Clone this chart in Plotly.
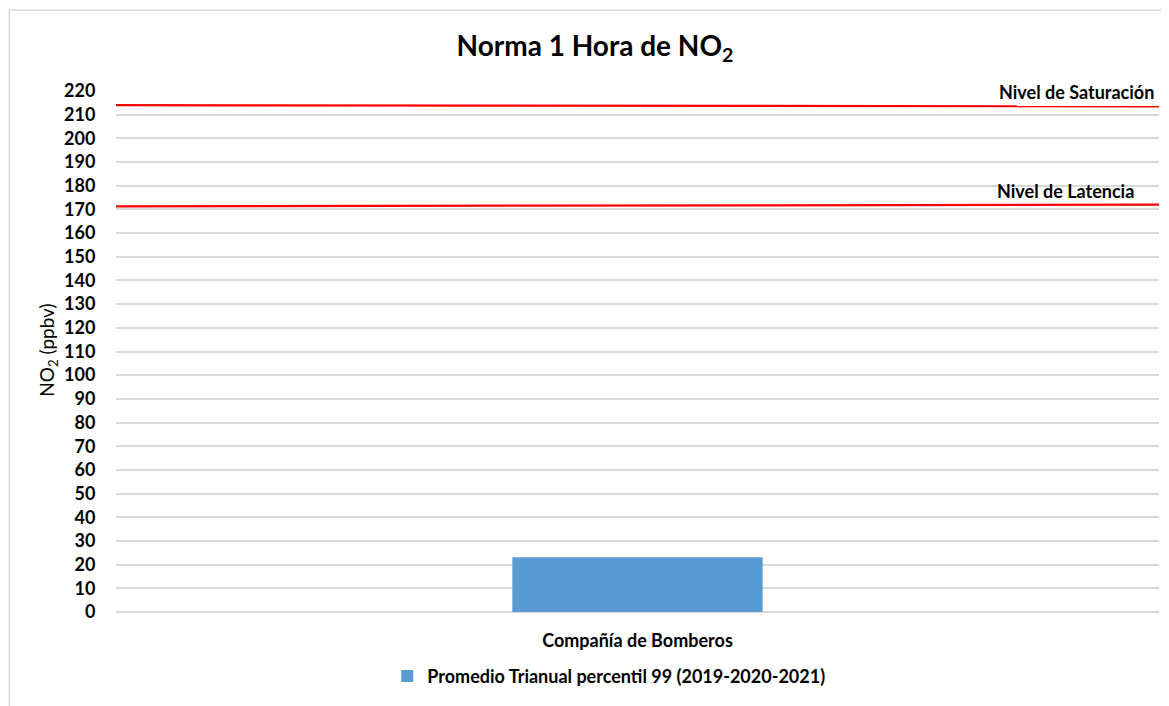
import plotly.graph_objects as go

categories = ["Compañía de Bomberos"]
promedio_values = [23.1]
series_name = "Promedio Trianual percentil 99 (2019-2020-2021)"
line_x = [0, 1]
saturacion_values = [214.0, 213.5]
latencia_values = [171.3, 172.0]
y_ticks = list(range(0, 230, 10))

OFF = 8  # default page body margin
W, H = 1169 - OFF, 706 - OFF
# plot area in page pixel coordinates
PX0, PX1 = 115.5, 1159
PY0, PY1 = 90.7, 611.7
L = PX0 - OFF
R = W - (PX1 - OFF)
T = PY0 - OFF
B = H - (PY1 - OFF)
pw = PX1 - PX0
ph = PY1 - PY0

FONT = "Lato"


def px_x(p):
    return (p - PX0) / pw


def px_y(p):
    return (PY1 - p) / ph


fig = go.Figure()
fig.add_trace(go.Bar(
    x=categories, y=promedio_values, name=series_name,
    marker=dict(color="#5B9BD5", line=dict(width=0)),
    xaxis="x", yaxis="y", showlegend=True,
))
fig.add_trace(go.Scatter(
    x=line_x, y=saturacion_values, mode="lines",
    line=dict(color="#FF0000", width=2.2), xaxis="x2", yaxis="y",
    showlegend=False, cliponaxis=False, hoverinfo="skip",
))
fig.add_trace(go.Scatter(
    x=line_x, y=latencia_values, mode="lines",
    line=dict(color="#FF0000", width=2.2), xaxis="x2", yaxis="y",
    showlegend=False, cliponaxis=False, hoverinfo="skip",
))

fig.update_layout(
    width=W, height=H,
    margin=dict(l=L, r=R, t=T, b=B, pad=0, autoexpand=False),
    paper_bgcolor="white", plot_bgcolor="white",
    font=dict(family=FONT, color="black"),
    bargap=0.76,
    title=dict(text="<b>Norma 1 Hora de NO<sub>2</sub></b>", x=(595 - OFF) / W, xanchor="center",
               y=1 - (46 - OFF) / H, yanchor="middle", font=dict(size=28, family=FONT)),
    xaxis=dict(type="category", showgrid=False, showline=False, zeroline=False,
               ticks="outside", ticklen=12, tickcolor="rgba(0,0,0,0)",
               tickfont=dict(size=18, family=FONT, weight="bold"), fixedrange=True),
    xaxis2=dict(overlaying="x", range=[0, 1], visible=False, fixedrange=True),
    yaxis=dict(range=[0, 220], tickvals=y_ticks, showgrid=True, gridcolor="#D9D9D9",
               gridwidth=1.5, zeroline=True, zerolinecolor="#D9D9D9", zerolinewidth=1.5,
               showline=False, ticks="outside", ticklen=16, tickcolor="rgba(0,0,0,0)",
               tickfont=dict(size=18, family=FONT, weight="bold"), fixedrange=True),
    legend=dict(orientation="h", x=px_x(608.5), xanchor="center",
                y=px_y(676), yanchor="middle",
                font=dict(size=18, family=FONT, weight="bold"), itemwidth=30),
    showlegend=True,
    annotations=[
        dict(text="NO<sub>2</sub> (ppbv)", textangle=-90, xref="paper", yref="paper",
             x=px_x(48), y=px_y(350), xanchor="center", yanchor="middle",
             showarrow=False, font=dict(size=19, family=FONT)),
        dict(text="<b>Nivel de Saturación</b>", xref="paper", yref="paper",
             x=px_x(1156), y=px_y(92), xanchor="right", yanchor="middle",
             showarrow=False, font=dict(size=18, family=FONT)),
        dict(text="<b>Nivel de Latencia</b>", xref="paper", yref="paper",
             x=px_x(1136), y=px_y(191), xanchor="right", yanchor="middle",
             showarrow=False, font=dict(size=18, family=FONT)),
    ],
    shapes=[
        dict(type="line", xref="paper", yref="paper", x0=px_x(OFF), x1=px_x(1175),
             y0=px_y(10), y1=px_y(10), line=dict(color="#D9D9D9", width=1.5)),
        dict(type="line", xref="paper", yref="paper", x0=px_x(OFF + 0.75), x1=px_x(OFF + 0.75),
             y0=px_y(10), y1=px_y(720), line=dict(color="#D9D9D9", width=1.5)),
    ],
)

fig.write_html("out.html")
